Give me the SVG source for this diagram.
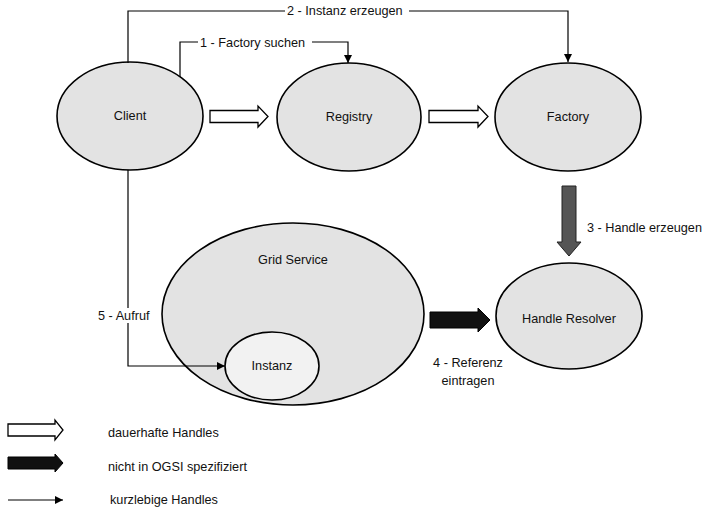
<svg xmlns="http://www.w3.org/2000/svg" width="710" height="515" viewBox="0 0 710 515">
<defs>
<style>
.node{fill:#e3e3e3;stroke:#000;stroke-width:1.6}
.inner{fill:#f2f2f2;stroke:#000;stroke-width:1.6}
.lbl{font-family:"Liberation Sans",Arial,sans-serif;font-size:12.7px;fill:#111}
.mid{text-anchor:middle}
.conn{fill:none;stroke:#000;stroke-width:1.2}
.hollow{fill:#fff;stroke:#000;stroke-width:1.3}
.solid{fill:#111;stroke:#000;stroke-width:1}
.gray{fill:#555;stroke:#222;stroke-width:1}
.bg{fill:#fff}
</style>
<marker id="ah" viewBox="0 0 10 10" refX="10" refY="5" markerWidth="8" markerHeight="8" markerUnits="userSpaceOnUse" orient="auto">
<path d="M0,0 L10,5 L0,10 z" fill="#000"/>
</marker>
</defs>
<rect width="710" height="515" fill="#fff"/>

<g id="client">
<ellipse class="node" cx="130" cy="116" rx="73" ry="54"/>
<text class="lbl mid" x="130" y="120">Client</text>
</g>
<g id="registry">
<ellipse class="node" cx="349" cy="117" rx="72" ry="54"/>
<text class="lbl mid" x="349" y="121">Registry</text>
</g>
<g id="factory">
<ellipse class="node" cx="568" cy="117" rx="73" ry="54"/>
<text class="lbl mid" x="568" y="121">Factory</text>
</g>
<g id="gridservice">
<ellipse class="node" cx="293" cy="314" rx="131" ry="91"/>
<text class="lbl mid" x="293" y="264">Grid Service</text>
</g>
<g id="instanz">
<ellipse class="inner" cx="272" cy="366" rx="47" ry="34"/>
<text class="lbl mid" x="272" y="370">Instanz</text>
</g>
<g id="handleresolver">
<ellipse class="node" cx="569" cy="316" rx="73" ry="53"/>
<text class="lbl mid" x="569" y="323">Handle Resolver</text>
</g>

<g id="connectors">
<path class="conn" d="M128,63 V11 H568 V62" marker-end="url(#ah)"/>
<rect class="bg" x="285" y="3" width="124" height="15"/>
<text class="lbl" x="287" y="15">2 - Instanz erzeugen</text>
<path class="conn" d="M180,77 V42 H348 V63" marker-end="url(#ah)"/>
<rect class="bg" x="198" y="35" width="114" height="15"/>
<text class="lbl" x="200" y="47">1 - Factory suchen</text>
<path class="conn" d="M128,170 V366 H225" marker-end="url(#ah)"/>
<rect class="bg" x="96" y="308" width="62" height="15"/>
<text class="lbl" x="98" y="320">5 - Aufruf</text>
<path class="hollow" d="M210,110.5 H258 V106 L268,116.5 L258,127 V122.5 H210 z"/>
<path class="hollow" d="M429,110.5 H478 V106 L488,116.5 L478,127 V122.5 H429 z"/>
<path class="gray" d="M562,186 H576 V242 H581 L569,256 L557,242 H562 z"/>
<text class="lbl" x="587" y="232">3 - Handle erzeugen</text>
<path class="solid" d="M430,312 H478 V308 L490,320 L478,332 V328 H430 z"/>
<text class="lbl mid" x="468" y="367">4 - Referenz</text>
<text class="lbl mid" x="468" y="385">eintragen</text>
</g>

<g id="legend">
<path class="hollow" d="M8,424 H55 V420 L63,430 L55,440 V436 H8 z"/>
<text class="lbl" x="108" y="437">dauerhafte Handles</text>
<path class="solid" d="M8,457 H55 V454 L63,463 L55,472 V469 H8 z"/>
<text class="lbl" x="108" y="471">nicht in OGSI spezifiziert</text>
<path class="conn" d="M8,500 H63" marker-end="url(#ah)"/>
<text class="lbl" x="110" y="504">kurzlebige Handles</text>
</g>
</svg>
